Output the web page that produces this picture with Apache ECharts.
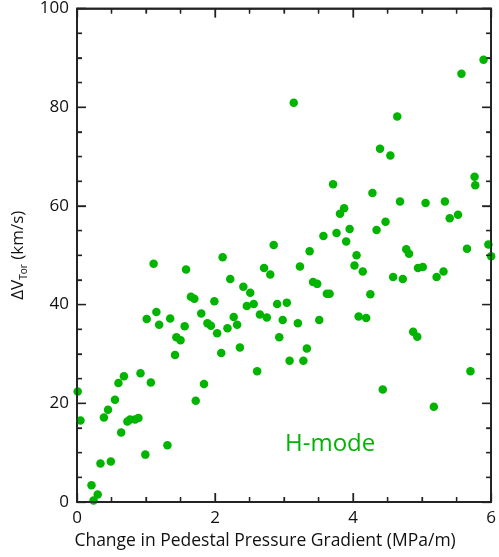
<!DOCTYPE html>
<html>
<head>
<meta charset="utf-8">
<script src="https://cdn.jsdelivr.net/npm/echarts@6/dist/echarts.min.js"></script>
<style>html,body{margin:0;padding:0;background:#fff}#c{width:499px;height:557px}</style>
</head>
<body>
<div id="c"></div>
<script>
// Data
const xValues = [3.14,5.57,5.89,4.64,4.39,4.54,5.76,5.77,3.71,4.28,4.68,5.05,5.33,3.87,3.81,5.40,5.52,4.47,4.34,3.95,3.76,3.57,3.90,2.85,3.37,5.96,5.65,4.77,4.81,4.05,6.0,1.11,1.58,2.11,3.23,4.02,4.14,4.94,5.01,5.31,2.71,2.80,2.22,4.58,4.72,5.21,3.42,3.48,2.41,3.62,3.66,4.25,2.51,1.65,1.70,1.99,2.46,2.56,2.90,3.04,1.15,1.80,2.65,4.08,4.19,1.01,1.35,2.27,2.75,2.98,3.51,1.19,1.56,1.89,1.94,2.32,2.18,3.20,2.03,4.87,4.93,1.44,1.50,2.93,1.42,2.09,2.36,3.33,3.08,3.28,2.61,5.70,0.92,0.68,0.60,1.07,1.84,4.43,0.01,0.55,1.72,5.17,0.45,0.39,0.89,0.84,0.77,0.73,0.05,0.64,1.31,0.99,0.49,0.34,0.21,0.30,0.24];
const yValues = [80.9,86.8,89.6,78.1,71.6,70.2,65.9,64.2,64.4,62.6,60.9,60.6,60.9,59.5,58.4,57.5,58.2,56.8,55.1,55.3,54.5,53.9,52.8,52.1,50.8,52.2,51.3,51.2,50.3,50.0,49.8,48.3,47.1,49.6,47.7,47.9,46.7,47.4,47.6,46.7,47.4,46.1,45.2,45.6,45.2,45.6,44.6,44.2,43.6,42.2,42.2,42.1,42.4,41.6,41.2,40.7,39.7,40.1,40.1,40.4,38.5,38.2,38.0,37.6,37.3,37.1,37.2,37.5,37.4,36.9,36.9,35.9,35.6,36.2,35.7,35.9,35.2,36.2,34.2,34.5,33.5,33.4,32.8,33.4,29.8,30.2,31.3,31.1,28.6,28.6,26.5,26.5,26.1,25.5,24.1,24.2,23.9,22.8,22.4,20.7,20.5,19.3,18.7,17.1,17.0,16.7,16.7,16.3,16.5,14.1,11.5,9.6,8.2,7.8,3.4,1.5,0.3];
const xTicks = [0, 2, 4, 6];
const yTicks = [0, 20, 40, 60, 80, 100];
const xTitle = 'Change in Pedestal Pressure Gradient (MPa/m)';
const yTitleMain = 'ΔV';
const yTitleSub = 'Tor';
const yTitleUnit = ' (km/s)';
const annotation = 'H-mode';

const points = xValues.map((x, i) => [x, yValues[i]]);
const green = '#00b400';
const axisColor = '#222222';
const font = 'Open Sans';

function minorsOf(ticks) {
  const out = [];
  for (let i = 0; i < ticks.length - 1; i++) {
    for (let k = 1; k < 4; k++) out.push(ticks[i] + (ticks[i + 1] - ticks[i]) * k / 4);
  }
  return out;
}
const xMinor = minorsOf(xTicks);
const yMinor = minorsOf(yTicks);

function axisParts() {
  return {
    splitLine: { show: false },
    axisLine: { show: true, onZero: false, lineStyle: { color: axisColor, width: 1.5 } },
    axisTick: { show: true, inside: true, length: 9, lineStyle: { color: axisColor, width: 1.3 } },
    minorTick: { show: true, splitNumber: 4, length: 5, lineStyle: { color: axisColor, width: 1.3 } },
    minorSplitLine: { show: false }
  };
}
function xAxisDef(extra) {
  return Object.assign({ type: 'value', min: xTicks[0], max: xTicks[xTicks.length - 1], interval: 2 }, axisParts(), extra);
}
function yAxisDef(extra) {
  return Object.assign({ type: 'value', min: yTicks[0], max: yTicks[yTicks.length - 1], interval: 20 }, axisParts(), extra);
}

// Frame and inward ticks drawn through the library's own coordinate conversion
function renderFrame(params, api) {
  const cs = params.coordSys;
  const top = cs.y, bottom = cs.y + cs.height, left = cs.x, right = cs.x + cs.width;
  const style = { stroke: axisColor, lineWidth: 1.3 };
  const children = [{
    type: 'rect', shape: { x: left, y: top, width: cs.width, height: cs.height },
    style: { fill: null, stroke: axisColor, lineWidth: 1.5 }, silent: true
  }];
  const addX = (v, len) => {
    const px = api.coord([v, yTicks[0]])[0];
    children.push({ type: 'line', shape: { x1: px, y1: bottom, x2: px, y2: bottom - len }, style, silent: true });
    children.push({ type: 'line', shape: { x1: px, y1: top, x2: px, y2: top + len }, style, silent: true });
  };
  const addY = (v, len) => {
    const py = api.coord([xTicks[0], v])[1];
    children.push({ type: 'line', shape: { x1: left, y1: py, x2: left + len, y2: py }, style, silent: true });
    children.push({ type: 'line', shape: { x1: right, y1: py, x2: right - len, y2: py }, style, silent: true });
  };
  xTicks.forEach(v => addX(v, 9));
  xMinor.forEach(v => addX(v, 5));
  yTicks.forEach(v => addY(v, 9));
  yMinor.forEach(v => addY(v, 5));
  return { type: 'group', children };
}

const chart = echarts.init(document.getElementById('c'), null, { renderer: 'canvas' });
chart.setOption({
  animation: false,
  backgroundColor: '#fff',
  title: {
    text: annotation, left: 285, top: 432, padding: 0,
    textStyle: { color: green, fontSize: 24, fontWeight: 'normal', fontFamily: font }
  },
  grid: { left: 77, right: 3, top: 7, bottom: 55, containLabel: false, show: true, borderColor: axisColor, borderWidth: 1.5, backgroundColor: 'transparent' },
  xAxis: [
    xAxisDef({
      position: 'bottom',
      axisLabel: { show: true, margin: 8, color: '#111', fontSize: 17, fontFamily: font },
      name: xTitle, nameLocation: 'middle', nameGap: 28,
      nameTextStyle: { color: '#111', fontSize: 17.5, fontFamily: font, padding: [0, 38, 0, 0] }
    }),
    xAxisDef({ position: 'top', axisLabel: { show: false } })
  ],
  yAxis: [
    yAxisDef({
      position: 'left',
      axisLabel: { show: true, margin: 8, color: '#111', fontSize: 17, fontFamily: font },
      name: '{a|' + yTitleMain + '}{b|' + yTitleSub + '}{a|' + yTitleUnit + '}',
      nameLocation: 'middle', nameGap: 46,
      nameTextStyle: {
        color: '#111', fontFamily: font,
        rich: {
          a: { fontSize: 17, fontFamily: font, color: '#111', lineHeight: 22 },
          b: { fontSize: 10, fontFamily: font, color: '#111', verticalAlign: 'bottom', lineHeight: 10, padding: [8, 0, 0, 0] }
        }
      }
    }),
    yAxisDef({ position: 'right', axisLabel: { show: false } })
  ],
  series: [
    { type: 'scatter', data: points, symbolSize: 8.5, clip: true, itemStyle: { color: green, opacity: 1 }, z: 2 },
    { type: 'scatter', xAxisIndex: 1, yAxisIndex: 1, data: [] },
    { type: 'custom', data: [[xTicks[0], yTicks[0]]], renderItem: renderFrame, silent: true, z: 5, clip: false }
  ]
});
</script>
</body>
</html>
